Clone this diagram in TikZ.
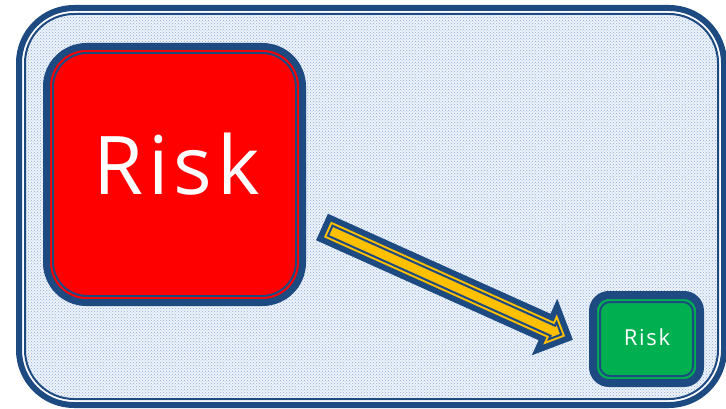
\documentclass[tikz,border=0pt]{standalone}
\usepackage{fontspec}
\setmainfont{Open Sans}
\usetikzlibrary{patterns}
\definecolor{dblue}{RGB}{30,74,130}
\definecolor{rred}{RGB}{255,0,0}
\definecolor{ggreen}{RGB}{0,176,80}
\definecolor{yyellow}{RGB}{255,192,0}
\definecolor{dotblue}{RGB}{140,172,218}
\definecolor{bgtint}{RGB}{238,243,250}
\begin{document}
\begin{tikzpicture}[x=1pt,y=-1pt,line join=miter,
  bigbox/.style={draw=dblue,line width=7pt,fill=rred,rounded corners=40pt,
    minimum width=256pt,minimum height=256pt,inner sep=0pt,outer sep=0pt},
  smallbox/.style={draw=dblue,line width=8pt,fill=ggreen,rounded corners=16pt,
    minimum width=107pt,minimum height=88pt,inner sep=0pt,outer sep=0pt},
  boxtext/.style={text=white,inner sep=0pt,anchor=base}]
\useasboundingbox (0,0) rectangle (726,409);
\fill[white] (0,0) rectangle (726,409);
% frame
\fill[bgtint,rounded corners=49pt] (25,14) rectangle (718,399);
\path[pattern=crosshatch dots,pattern color=dotblue,rounded corners=49pt] (25,14) rectangle (718,399);
\draw[dblue,line width=2pt,rounded corners=49pt] (25,14) rectangle (718,399);
\draw[dblue,line width=6pt,rounded corners=55pt] (19,8) rectangle (724,405);
% red box
\node[bigbox] (riskbox) at (174.5,174.5) {};
\draw[dblue,line width=2pt,rounded corners=34pt]
  ([shift={(6.5,6.5)}]riskbox.north west) rectangle ([shift={(-6.5,-6.5)}]riskbox.south east);
\node[boxtext,font=\fontsize{81}{96}\selectfont\addfontfeature{LetterSpace=6}] (risktext) at (176.5,194) {Risk};
% green box
\node[smallbox] (smallrisk) at (646.5,339) {};
\draw[dblue,line width=2pt,rounded corners=10pt]
  ([shift={(7,7)}]smallrisk.north west) rectangle ([shift={(-7,-7)}]smallrisk.south east);
\node[boxtext,font=\fontsize{22}{26}\selectfont\addfontfeature{LetterSpace=8}] (smalltext) at (647,345) {Risk};
% arrow
\begin{scope}[shift={(322,227)},rotate=-24.2]
\fill[dblue] (0,-14.5) -- (244,-14.5) -- (244,-31) -- (275,0) -- (244,31) -- (244,14.5) -- (0,14.5) -- cycle;
\fill[yyellow] (6,-8.5) -- (250,-8.5) -- (250,-16.5) -- (266.5,0) -- (250,16.5) -- (250,8.5) -- (6,8.5) -- cycle;
\draw[dblue,line width=2pt] (9,-5.5) -- (253,-5.5) -- (253,-9.3) -- (262.3,0) -- (253,9.3) -- (253,5.5) -- (9,5.5) -- cycle;
\end{scope}
\end{tikzpicture}
\end{document}
